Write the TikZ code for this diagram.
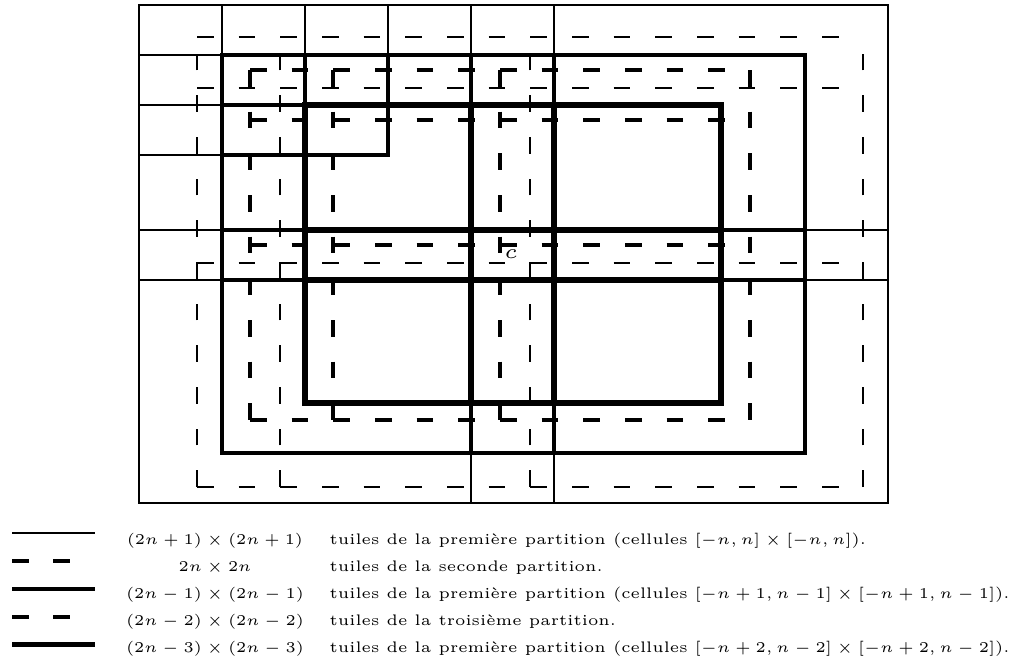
\documentclass[tikz,border=0pt]{standalone}
\begin{document}
\begin{tikzpicture}[x=1pt,y=-1pt,
  thinline/.style={line width=1.8pt},
  medline/.style={line width=3.2pt},
  thickline/.style={line width=5.6pt},
  dashA/.style={line width=1.8pt, dash pattern=on 16.67pt off 25pt},
  dashB/.style={line width=3.4pt, dash pattern=on 16.67pt off 25pt},
  lbl/.style={font=\fontsize{5}{6}\selectfont, scale=3, inner sep=0pt},
  txt/.style={font=\fontsize{5.1}{6}\selectfont, scale=3, inner sep=0pt, anchor=base west},
]
\useasboundingbox (0,0) rectangle (1027,662);
% first partition (2n+1)
\draw[thinline] (139,5) rectangle (888,503);
\foreach \x in {222,305,388,471,554} \draw[thinline] (\x,5) -- (\x,55);
\foreach \y in {55,105,155,230,280} \draw[thinline] (139,\y) -- (222,\y);
\foreach \y in {230,280} \draw[thinline] (805,\y) -- (888,\y);
\foreach \x in {471,554} \draw[thinline] (\x,453) -- (\x,503);
% second partition 2n
\foreach \x in {197,280,530,863} \draw[dashA] (\x,487) -- (\x,37);
\foreach \y in {37,88,263,487} \draw[dashA] (197,\y) -- (863,\y);
% third partition (2n-2)
\foreach \x in {250,333,500,750} \draw[dashB] (\x,70) -- (\x,420);
\foreach \y in {70,120,245,420} \draw[dashB] (250,\y) -- (750,\y);
% first partition (2n-1)
\draw[medline] (222,55) rectangle (805,453);
\draw[medline] (222,105) -- (305,105);
\draw[medline] (222,155) -- (388,155) -- (388,55);
\foreach \x in {305,471,554} \draw[medline] (\x,55) -- (\x,105);
\foreach \y in {230,280} {\draw[medline] (222,\y) -- (305,\y); \draw[medline] (721,\y) -- (805,\y);}
\foreach \x in {471,554} \draw[medline] (\x,403) -- (\x,453);
% first partition (2n-3)
\draw[thickline] (305,105) rectangle (721,403);
\foreach \y in {230,280} \draw[thickline] (305,\y) -- (721,\y);
\foreach \x in {471,554} \draw[thickline] (\x,105) -- (\x,403);
\node[lbl, scale=1.35] (c) at (511,254) {$c$};
% legend
\draw[line width=2.2pt] (12,533) -- (95,533);
\draw[line width=3.5pt, dash pattern=on 17pt off 24pt] (12,561) -- (70,561);
\draw[line width=4pt] (12,589) -- (95,589);
\draw[line width=3.5pt, dash pattern=on 17pt off 24pt] (12,617) -- (70,617);
\draw[line width=5pt] (12,644) -- (95,644);
\node[lbl, anchor=base] (m1) at (215,544) {$(2n+1)\times(2n+1)$};
\node[lbl, anchor=base] (m2) at (215,571) {$2n\times 2n$};
\node[lbl, anchor=base] (m3) at (215,598) {$(2n-1)\times(2n-1)$};
\node[lbl, anchor=base] (m4) at (215,625) {$(2n-2)\times(2n-2)$};
\node[lbl, anchor=base] (m5) at (215,652) {$(2n-3)\times(2n-3)$};
\node[txt] (t1) at (329,544) {tuiles de la première partition (cellules $[-n,n]\times[-n,n]$).};
\node[txt] (t2) at (329,571) {tuiles de la seconde partition.};
\node[txt] (t3) at (329,598) {tuiles de la première partition (cellules $[-n+1,n-1]\times[-n+1,n-1]$).};
\node[txt] (t4) at (329,625) {tuiles de la troisième partition.};
\node[txt] (t5) at (329,652) {tuiles de la première partition (cellules $[-n+2,n-2]\times[-n+2,n-2]$).};
\end{tikzpicture}
\end{document}
